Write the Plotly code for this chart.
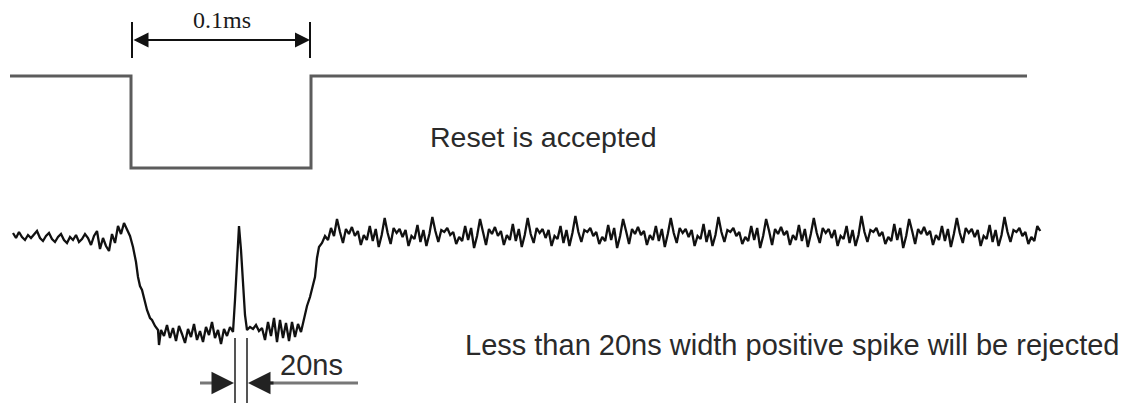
import numpy as np
import plotly.graph_objects as go

# ---------------- data (pixel-like units) ----------------
# Top reset pulse (square wave)
reset_t = [10, 131, 131, 311, 311, 1027]
reset_v = [76, 76, 168, 168, 76, 76]

# Noisy signal: irregular part (left noise, drop, low level, spike, low level, rise)
noisy_t = [13, 16, 19, 22, 25, 28, 31, 34, 37, 40, 43, 46, 49, 52, 55, 58, 61, 64, 67, 70,
           73, 76, 79, 82, 85, 88, 91, 94, 97, 100, 103, 106, 109, 112, 115, 118, 121, 124, 127,
           130, 133, 136, 138, 140, 142, 145, 147, 150, 152, 155, 158, 159,
           161, 164, 167, 170, 173, 176, 179, 182, 185, 188, 191, 194, 197, 200, 203, 206, 209,
           212, 215, 218, 221, 224, 227, 230, 233,
           235, 237, 239, 241, 243, 245, 247,
           250, 253, 256, 259, 262, 265, 268, 271, 274, 277, 280, 283, 286, 289, 292, 295, 298,
           301, 304,
           307, 310, 313, 315, 317, 319, 322, 325, 328, 331, 334]
noisy_v = [233, 238, 232, 237, 240, 235, 238, 234, 231, 238, 241, 236, 233, 239, 242, 237, 234, 240, 243, 237,
           240, 235, 242, 239, 234, 238, 245, 236, 231, 249, 238, 246, 251, 234, 243, 226, 234, 223, 229,
           236, 247, 262, 277, 286, 290, 302, 310, 318, 320, 326, 330, 345,
           330, 336, 325, 338, 328, 341, 326, 334, 343, 329, 337, 324, 340, 331, 342, 327, 335,
           322, 338, 330, 344, 329, 336, 327, 332,
           300, 255, 226, 250, 285, 315, 330,
           327, 329, 325, 331, 328, 340, 322, 336, 318, 342, 320, 338, 323, 341, 322, 337, 324,
           332, 318,
           306, 297, 284, 277, 258, 247, 243, 236, 240, 228, 236]

# High level noise: one row per repeat of the pattern, uniformly sampled
high_start = 337
high_step = 2.98
high_rows = [
    [219, 232, 243, 229, 234, 227, 236, 231, 245, 235, 240, 226, 241, 229, 247, 235],
    [218, 233, 244, 228, 233, 229, 237, 230, 246, 236, 239, 225, 242, 230, 246, 234],
    [217, 231, 242, 230, 232, 228, 235, 232, 244, 237, 241, 226, 240, 228, 248, 236],
    [219, 232, 245, 229, 234, 227, 236, 231, 245, 235, 240, 224, 241, 229, 247, 235],
    [218, 234, 243, 228, 233, 229, 238, 230, 246, 236, 239, 226, 243, 230, 246, 233],
    [216, 232, 242, 230, 232, 228, 236, 232, 244, 237, 241, 225, 240, 228, 248, 236],
    [219, 231, 244, 229, 234, 227, 235, 231, 245, 235, 240, 226, 241, 229, 247, 234],
    [218, 233, 243, 228, 233, 229, 237, 230, 246, 236, 239, 224, 242, 230, 246, 235],
    [217, 232, 242, 230, 232, 228, 236, 232, 244, 237, 241, 226, 240, 228, 248, 236],
    [219, 231, 245, 229, 234, 227, 235, 231, 245, 235, 240, 225, 241, 229, 247, 234],
    [218, 233, 243, 228, 233, 229, 238, 230, 246, 236, 239, 226, 243, 230, 246, 235],
    [216, 232, 242, 230, 232, 228, 236, 232, 244, 237, 241, 224, 240, 228, 248, 236],
    [219, 231, 244, 229, 234, 227, 235, 231, 245, 235, 240, 226, 241, 229, 247, 234],
    [218, 233, 243, 228, 233, 229, 237, 230, 246, 236, 239, 225, 242, 230, 246, 235],
    [217, 232, 242, 230, 232, 228, 236, 232, 244, 237, 241, 226, 231],
]

# Annotation positions (time marks)
pulse_start, pulse_end = 132, 310
spike_left, spike_right = 235, 247

labels = {
    "width": "0.1ms",
    "reset": "Reset is accepted",
    "spike": "20ns",
    "reject": "Less than 20ns width positive spike will be rejected",
}

# ---------------- build ----------------
high_v = [v for row in high_rows for v in row]
high_t = list(high_start + high_step * np.arange(len(high_v)))
sig_t = noisy_t + high_t
sig_v = noisy_v + high_v

# page body has an 8px margin; the figure fills the rest of the window
OFF = 8
W, H = 1131, 403

fig = go.Figure()
fig.add_trace(go.Scatter(x=reset_t, y=reset_v, mode="lines",
                         line=dict(color="#5c5c5c", width=3), hoverinfo="skip"))
fig.add_trace(go.Scatter(x=sig_t, y=sig_v, mode="lines",
                         line=dict(color="#111111", width=2.3), hoverinfo="skip"))

shapes = [
    dict(type="line", x0=pulse_start, x1=pulse_start, y0=22, y1=58, line=dict(color="#111", width=2)),
    dict(type="line", x0=pulse_end, x1=pulse_end, y0=22, y1=58, line=dict(color="#111", width=2)),
    dict(type="line", x0=spike_left, x1=spike_left, y0=338, y1=403, line=dict(color="#555", width=2)),
    dict(type="line", x0=spike_right, x1=spike_right, y0=338, y1=403, line=dict(color="#555", width=2)),
    dict(type="line", x0=200, x1=224, y0=383, y1=383, line=dict(color="#777", width=3)),
    dict(type="line", x0=258, x1=358, y0=383, y1=383, line=dict(color="#777", width=3)),
]

annotations = [
    dict(x=pulse_end, y=40, ax=pulse_start, ay=40, axref="x", ayref="y", xref="x", yref="y",
         text="", showarrow=True, arrowhead=2, arrowside="end+start", arrowsize=1.5,
         arrowwidth=2, arrowcolor="#111", standoff=0, startstandoff=0),
    dict(x=spike_left - 1, y=383, ax=212, ay=383, axref="x", ayref="y", xref="x", yref="y",
         text="", showarrow=True, arrowhead=2, arrowsize=1.5, arrowwidth=3,
         arrowcolor="#222", standoff=0),
    dict(x=spike_right + 1, y=383, ax=275, ay=383, axref="x", ayref="y", xref="x", yref="y",
         text="", showarrow=True, arrowhead=2, arrowsize=1.5, arrowwidth=3,
         arrowcolor="#222", standoff=0),
    dict(x=222, y=20, xref="x", yref="y", text=labels["width"], showarrow=False,
         font=dict(family="Liberation Serif, Times New Roman, serif", size=24, color="#1a1a1a")),
    dict(x=543, y=137, xref="x", yref="y", text=labels["reset"], showarrow=False,
         font=dict(family="Liberation Sans, Arial, sans-serif", size=28.5, color="#2a2a2a")),
    dict(x=311, y=365, xref="x", yref="y", text=labels["spike"], showarrow=False,
         font=dict(family="Liberation Sans, Arial, sans-serif", size=29, color="#2a2a2a")),
    dict(x=792, y=345, xref="x", yref="y", text=labels["reject"], showarrow=False,
         font=dict(family="Liberation Sans, Arial, sans-serif", size=29, color="#2a2a2a")),
]

fig.update_layout(
    width=W - OFF, height=H - OFF,
    margin=dict(l=0, r=0, t=0, b=0),
    paper_bgcolor="white", plot_bgcolor="white",
    showlegend=False,
    xaxis=dict(range=[OFF, W], visible=False, fixedrange=True),
    yaxis=dict(range=[H, OFF], visible=False, fixedrange=True),
    shapes=shapes, annotations=annotations,
)

fig.write_html("out.html", config={"displayModeBar": False})
